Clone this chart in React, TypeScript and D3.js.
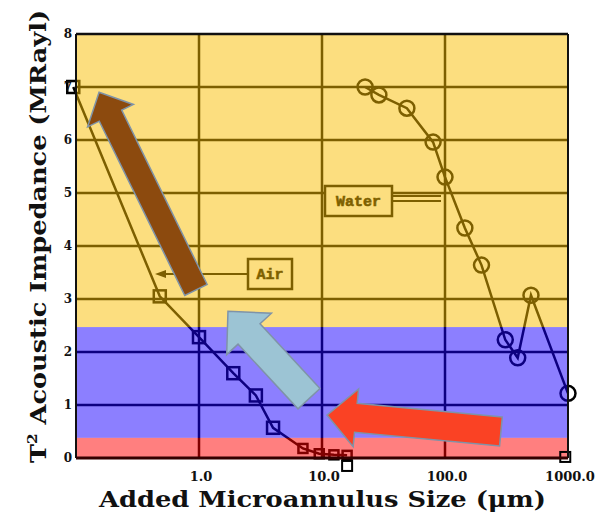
import React from "react";
import * as d3 from "d3";

// ---- data ----
const xTickValues = [1, 10, 100, 1000];
const xTickLabels = ["1.0", "10.0", "100.0", "1000.0"];
const yTickValues = [0, 1, 2, 3, 4, 5, 6, 7, 8];
const xGridValues = [1, 10, 100];
const yGridValues = [1, 2, 3, 4, 5, 6, 7];

// Air (squares)
const airX = [0.095, 0.48, 1.0, 1.9, 2.9, 4.0, 7.0, 9.5, 12.5, 16];
const airY = [7.0, 3.05, 2.28, 1.6, 1.18, 0.57, 0.18, 0.08, 0.06, 0.05];
const airExtraX = [16, 950];
const airExtraY = [-0.15, 0.02];

// Water (circles)
const waterX = [22.4, 29, 49, 80, 100, 145, 198, 309, 390, 500, 1000];
const waterY = [7.0, 6.85, 6.6, 5.96, 5.3, 4.34, 3.64, 2.23, 1.89, 3.07, 1.22];

// colour bands (top, bottom) in data units
const bandTops = [8, 2.47, 0.38];
const bandBottoms = [2.47, 0.38, 0];
const bandColors = ["#FABE00", "#1900FF", "#FF0000"];

// annotation arrows: tip / tail in data coords
const arrowTipX = [0.154, 1.72, 10.98];
const arrowTipY = [6.9, 2.77, 0.81];
const arrowTailX = [0.945, 7.84, 285];
const arrowTailY = [3.17, 1.12, 0.5];
const arrowColors = ["#8C4A0E", "#9CC4D4", "#FA4224"];

const W = 610, H = 519;
const L = 76, R = 568, T = 34, B = 458;

const x = d3.scaleLog().domain([0.1, 1000]).range([L, R]);
const y = d3.scaleLinear().domain([0, 8]).range([B, T]);

function arrowPoly(tip: number[], tail: number[], sw: number, hw: number, hl: number) {
  const dx = tip[0] - tail[0], dy = tip[1] - tail[1];
  const len = Math.hypot(dx, dy);
  const ux = dx / len, uy = dy / len;
  const nx = -uy, ny = ux;
  const bx = tip[0] - ux * hl, by = tip[1] - uy * hl;
  const pts = [
    [tail[0] + nx * sw / 2, tail[1] + ny * sw / 2],
    [bx + nx * sw / 2, by + ny * sw / 2],
    [bx + nx * hw / 2, by + ny * hw / 2],
    [tip[0], tip[1]],
    [bx - nx * hw / 2, by - ny * hw / 2],
    [bx - nx * sw / 2, by - ny * sw / 2],
    [tail[0] - nx * sw / 2, tail[1] - ny * sw / 2],
  ];
  return pts.map((p) => p.join(",")).join(" ");
}

const arrowSizes = [
  [25, 51, 26],
  [30, 61, 31],
  [29, 58, 29],
];

export default function App() {
  const line = d3
    .line<[number, number]>()
    .x((d) => x(d[0]))
    .y((d) => y(d[1]));
  const airPts = airX.map((v, i) => [v, airY[i]] as [number, number]);
  const waterPts = waterX.map((v, i) => [v, waterY[i]] as [number, number]);
  const ink = "#000";
  const mono = "'Liberation Mono', 'DejaVu Sans Mono', monospace";
  const serif = "'DejaVu Serif', serif";

  // label box positions (data coords)
  const airBox = { x: x.invert(248), y: y.invert(259) };
  const waterBox = { x: x.invert(325), y: y.invert(186) };

  return (
    <svg
      width={W}
      height={H}
      style={{ position: "absolute", left: 0, top: 0, background: "#fff" }}
      xmlns="http://www.w3.org/2000/svg"
    >
      {/* grid */}
      {xGridValues.map((v) => (
        <line key={"gx" + v} x1={x(v)} x2={x(v)} y1={T} y2={B} stroke={ink} strokeWidth={2.5} />
      ))}
      {yGridValues.map((v) => (
        <line key={"gy" + v} x1={L} x2={R} y1={y(v)} y2={y(v)} stroke={ink} strokeWidth={2.5} />
      ))}

      {/* label boxes */}
      <g>
        <rect x={x(airBox.x)} y={y(airBox.y)} width={44} height={30} fill="#fff" stroke={ink} strokeWidth={2.5} />
        <text x={x(airBox.x) + 22} y={y(airBox.y) + 20} textAnchor="middle" fontFamily={mono} fontWeight="bold" fontSize={15} fill={ink} stroke={ink} strokeWidth={0.6}>Air</text>
        <line x1={x(airBox.x)} x2={x(airBox.x) - 85} y1={y(airBox.y) + 15} y2={y(airBox.y) + 15} stroke={ink} strokeWidth={2} />
        <polygon
          points={`${x(airBox.x) - 93},${y(airBox.y) + 15} ${x(airBox.x) - 82},${y(airBox.y) + 11} ${x(airBox.x) - 82},${y(airBox.y) + 19}`}
          fill={ink}
        />
        <rect x={x(waterBox.x)} y={y(waterBox.y)} width={67} height={30} fill="#fff" stroke={ink} strokeWidth={2.5} />
        <text x={x(waterBox.x) + 33.5} y={y(waterBox.y) + 20} textAnchor="middle" fontFamily={mono} fontWeight="bold" fontSize={15} fill={ink} stroke={ink} strokeWidth={0.6}>Water</text>
        <line x1={x(waterBox.x) + 67} x2={x(waterBox.x) + 116} y1={y(waterBox.y) + 10} y2={y(waterBox.y) + 10} stroke={ink} strokeWidth={1.8} />
        <line x1={x(waterBox.x) + 67} x2={x(waterBox.x) + 116} y1={y(waterBox.y) + 15} y2={y(waterBox.y) + 15} stroke={ink} strokeWidth={1.8} />
      </g>

      {/* data */}
      <g>
        <path d={line(airPts) || ""} fill="none" stroke={ink} strokeWidth={2.5} />
        {airPts.map((p, i) => {
          const s = i < 6 ? 12 : 9;
          return (
            <rect key={"a" + i} x={x(p[0]) - s / 2} y={y(p[1]) - s / 2} width={s} height={s} fill="none" stroke={ink} strokeWidth={2.5} />
          );
        })}
        <path d={line(waterPts) || ""} fill="none" stroke={ink} strokeWidth={2.5} />
        {waterPts.map((p, i) => (
          <circle key={"w" + i} cx={x(p[0])} cy={y(p[1])} r={7.5} fill="none" stroke={ink} strokeWidth={2.5} />
        ))}
      </g>

      {/* colour overlay */}
      {bandTops.map((t, i) => (
        <rect
          key={"b" + i}
          x={L}
          y={y(t)}
          width={R - L}
          height={y(bandBottoms[i]) - y(t)}
          fill={bandColors[i]}
          fillOpacity={0.5}
        />
      ))}

      {/* markers below axis */}
      {airExtraX.map((v, i) => (
        <rect key={"ae" + i} x={x(v) - 5} y={y(airExtraY[i]) - 5} width={10} height={10} fill="none" stroke={ink} strokeWidth={2} />
      ))}

      {/* frame */}
      <line x1={L} x2={R} y1={T} y2={T} stroke="#111" strokeWidth={2.5} />
      <line x1={L} x2={L} y1={T} y2={B} stroke="#111" strokeWidth={2} />
      <line x1={R} x2={R} y1={T} y2={B} stroke="#111" strokeWidth={2} />
      <line x1={L} x2={R} y1={B} y2={B} stroke="#300" strokeWidth={3} />

      {/* y ticks */}
      {yTickValues.map((v) => (
        <text key={"yt" + v} x={68} y={y(v) + 4} textAnchor="middle" fontFamily={serif} fontWeight="bold" fontSize={12} fill="#111">
          {v}
        </text>
      ))}
      {/* x ticks */}
      {xTickValues.map((v, i) => (
        <text key={"xt" + v} x={x(v) + 2} y={481} textAnchor="middle" fontFamily={serif} fontWeight="bold" fontSize={13} fill="#111">
          {xTickLabels[i]}
        </text>
      ))}

      {/* titles */}
      <text x={322.5} y={507} textAnchor="middle" fontFamily={serif} fontWeight="bold" fontSize={22} fill="#111" textLength={447} lengthAdjust="spacingAndGlyphs">
        Added Microannulus Size (μm)
      </text>
      <text
        transform="translate(46,236.5) rotate(-90)"
        textAnchor="middle"
        fontFamily={serif}
        fontWeight="bold"
        fontSize={22}
        fill="#111"
        textLength={453}
        lengthAdjust="spacingAndGlyphs"
      >
        T<tspan fontSize={13} dy={-9}>2</tspan>
        <tspan dy={9}> Acoustic Impedance (MRayl)</tspan>
      </text>

      {/* annotation arrows */}
      {arrowColors.map((c, i) => (
        <polygon
          key={"arr" + i}
          points={arrowPoly(
            [x(arrowTipX[i]), y(arrowTipY[i])],
            [x(arrowTailX[i]), y(arrowTailY[i])],
            arrowSizes[i][0],
            arrowSizes[i][1],
            arrowSizes[i][2]
          )}
          fill={c}
          stroke="#7F93A8"
          strokeWidth={1.5}
        />
      ))}
    </svg>
  );
}
